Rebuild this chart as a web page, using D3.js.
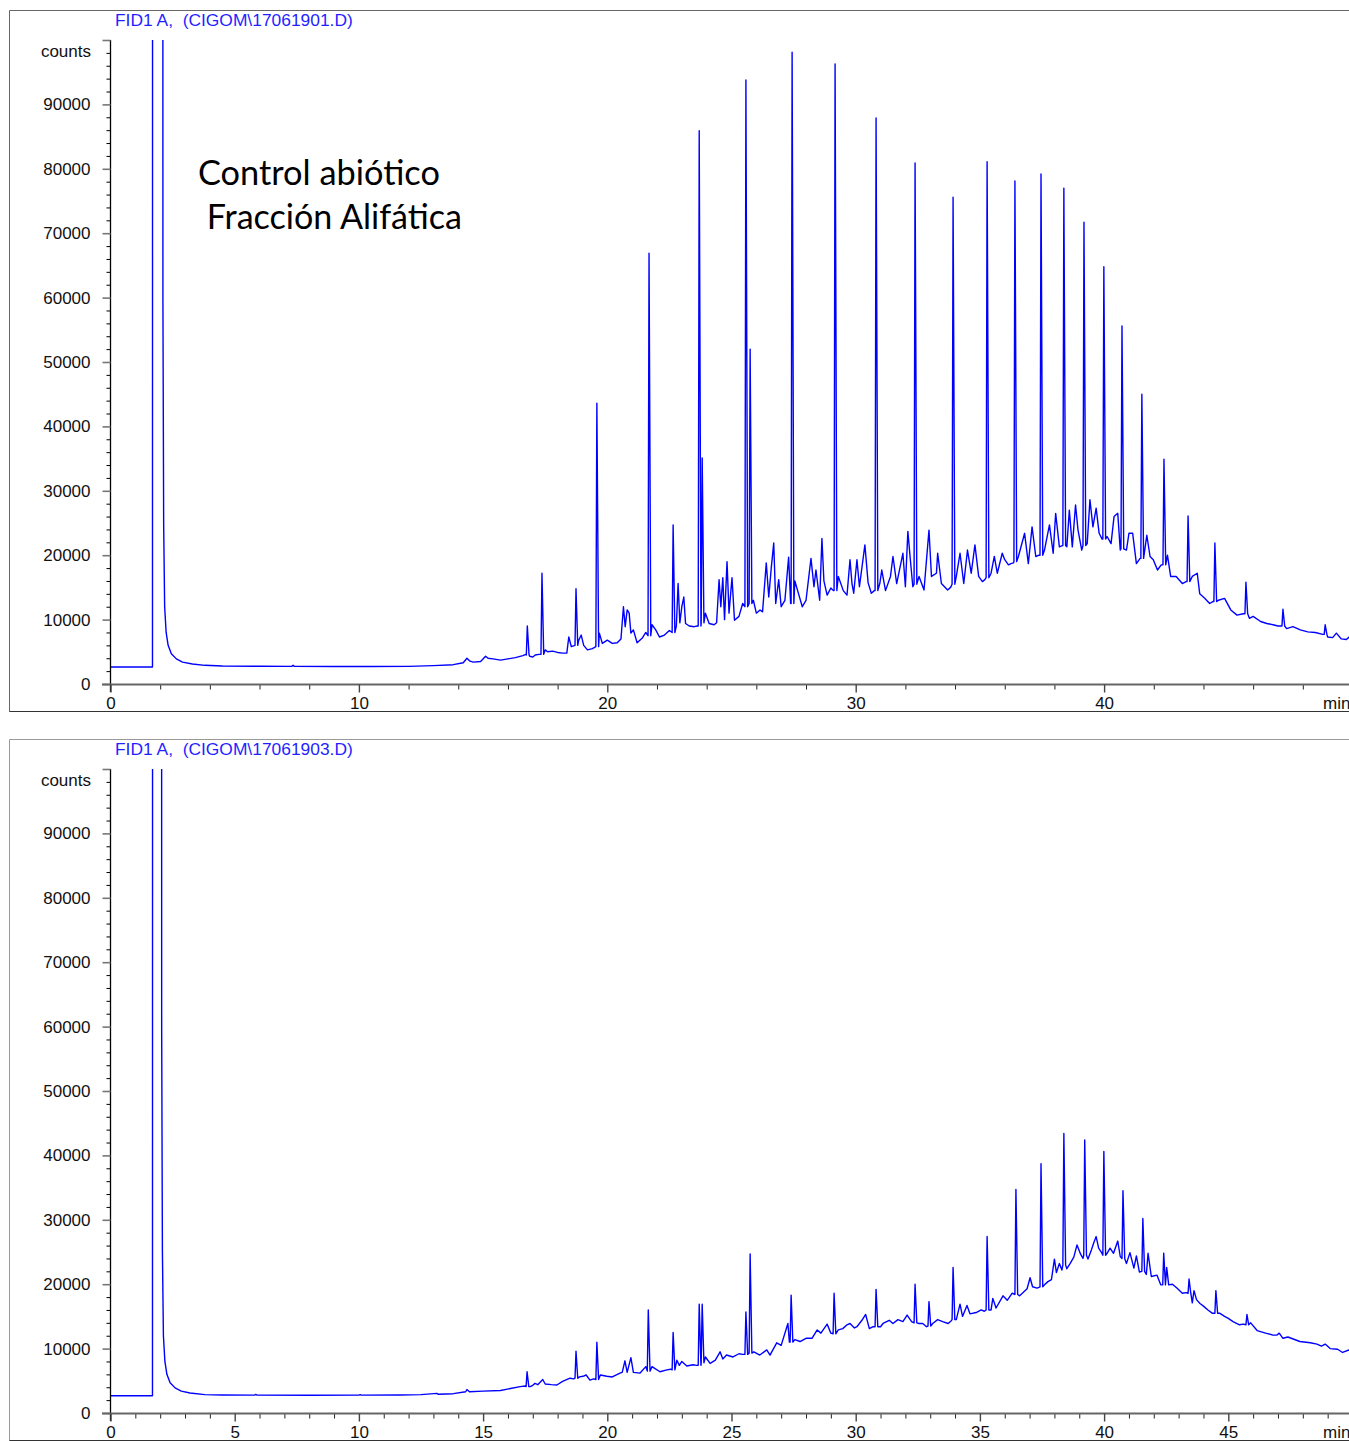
<!DOCTYPE html>
<html>
<head>
<meta charset="utf-8">
<script src="https://cdn.jsdelivr.net/npm/d3@7"></script>
<style>
  body { margin: 0; background: #fff; }
  svg { display: block; }
</style>
</head>
<body>
<script>
// ---------- Chromatogram data (retention time in min, detector counts) ----------

// Run 17061901 – abiotic control, aliphatic fraction: background trace
const traceTop = [
  [0,2640],[1.69,2640],[1.70,400000],[2.10,400000],[2.11,60000],[2.14,25000],[2.18,12000],[2.24,8000],
  [2.32,6000],[2.45,4700],[2.65,3900],[2.9,3400],[3.3,3100],[3.8,2900],[4.5,2800],[6,2760],[7.3,2740],
  [7.35,2900],[7.4,2740],[9,2720],[10.5,2720],[12,2740],[13,2850],[13.8,3000],[14.2,3300],[14.35,4000],
  [14.45,3600],[14.6,3400],[14.9,3500],[15.1,4300],[15.2,4000],[15.4,3900],[15.7,3700],[16.0,3900],
  [16.3,4100],[16.6,4400],[16.72,4600],[16.88,4300],[17.0,4200],[17.1,4500],[17.25,4600],[17.5,5300],
  [17.6,5000],[17.8,5100],[18.0,4900],[18.2,4800],[18.37,4800],[18.45,7300],[18.55,5800],[18.85,6800],
  [18.95,7600],[19.05,6000],[19.2,5300],[19.4,5500],[19.68,7900],[19.8,6300],[20.0,6800],[20.2,6300],
  [20.4,6400],[20.55,7000],[20.65,12000],[20.72,8900],[20.8,11500],[20.88,11000],[20.95,7900],[21.05,8400],
  [21.2,6400],[21.4,7100],[21.55,8000],[21.8,9200],[21.95,8400],[22.1,7300],[22.3,7600],[22.5,8300],
  [22.78,9000],[22.85,15600],[22.92,9500],[23.0,12000],[23.08,13500],[23.15,9400],[23.3,9000],[23.5,8900],
  [23.62,9000],[23.95,11000],[24.1,9400],[24.3,9200],[24.4,9500],[24.5,16200],[24.57,12000],[24.65,16500],
  [24.72,10000],[24.82,19000],[24.9,11000],[25.02,16500],[25.12,9900],[25.3,10500],[25.45,12500],
  [25.88,13000],[26.0,11000],[26.15,11500],[26.25,11200],[26.4,18800],[26.5,13500],[26.6,18000],
  [26.7,21900],[26.78,12500],[26.9,16200],[27.0,12000],[27.15,13000],[27.3,19700],[27.38,12500],
  [27.55,16000],[27.7,14000],[27.85,12000],[28.0,13000],[28.2,19500],[28.32,15100],[28.4,17700],
  [28.55,13000],[28.64,22600],[28.72,16000],[28.85,13800],[29.0,14900],[29.1,14500],[29.3,16700],
  [29.5,14500],[29.65,13800],[29.77,19300],[29.85,15600],[29.92,14100],[30.05,19300],[30.15,15100],
  [30.37,21600],[30.5,15700],[30.63,14100],[30.75,14500],[30.97,15600],[31.05,17700],[31.2,14500],
  [31.4,16700],[31.5,19800],[31.65,15600],[31.9,20300],[32.0,15100],[32.1,23700],[32.2,19300],[32.3,15100],
  [32.55,16700],[32.75,14600],[32.95,23900],[33.05,16700],[33.25,17200],[33.3,20300],[33.45,15600],
  [33.7,14600],[33.82,15000],[34.05,16700],[34.2,20300],[34.35,15600],[34.5,20800],[34.65,17200],
  [34.8,21600],[34.95,16700],[35.1,15900],[35.2,16200],[35.45,17200],[35.58,19800],[35.7,17200],
  [35.9,20300],[36.0,19300],[36.15,18500],[36.25,18700],[36.35,18800],[36.55,19800],[36.8,23400],
  [36.95,18700],[37.1,24400],[37.25,19800],[37.38,20000],[37.6,20800],[37.8,24700],[37.95,20300],
  [38.05,26500],[38.2,21300],[38.32,21500],[38.5,21300],[38.6,27000],[38.72,21300],[38.85,27800],
  [38.95,23900],[39.1,20800],[39.32,21800],[39.43,28600],[39.55,24400],[39.68,27300],[39.8,23400],
  [39.92,22500],[40.12,22900],[40.28,21800],[40.4,26000],[40.55,26500],[40.65,20800],[40.9,20800],
  [41.0,23400],[41.15,23400],[41.3,18700],[41.45,19500],[41.72,23100],[41.85,19800],[41.98,19300],
  [42.15,17700],[42.3,18500],[42.55,20000],[42.68,16700],[42.9,16700],[43.15,15600],[43.3,15900],
  [43.55,16700],[43.75,17200],[43.85,14000],[44.05,13300],[44.25,12500],[44.38,12800],[44.6,13000],
  [44.85,13300],[45.1,11500],[45.35,10700],[45.6,10900],[45.85,10200],[46.0,10500],[46.3,9700],
  [46.55,9400],[46.8,9200],[47.0,9000],[47.35,8600],[47.6,8900],[47.9,8400],[48.2,8100],[48.5,8000],
  [48.8,7700],[49.0,7300],[49.2,7200],[49.35,7900],[49.55,7000],[49.75,6900],[49.9,7400],[50,7300]
];
// Resolved peaks: [retention time, foot counts, apex counts]
const peaksTop = [
  [16.78,4500,9000],[17.37,4600,17200],[18.74,6000,14800],[19.58,5800,43600],[21.68,7500,66900],
  [22.65,8000,24700],[23.70,9000,85900],[23.82,9500,35100],[25.58,12000,93800],[25.75,12500,52000],
  [27.44,12500,98100],[29.17,14500,96300],[30.82,14500,87900],[32.39,15500,80900],[33.92,15500,75600],
  [35.29,16500,81100],[36.41,19000,78100],[37.46,20000,79200],[38.38,21500,77000],[39.19,21500,71700],
  [39.99,22500,64800],[40.72,21000,55600],[41.52,19500,45000],[42.41,18500,34900],[43.38,15900,26100],
  [44.46,12800,21900],[45.71,10900,15800],[47.2,9000,11600],[48.9,7700,9200]
];

// Run 17061903 – A2MF: background trace
const traceBottom = [
  [0,2680],[1.69,2680],[1.70,400000],[2.05,400000],[2.06,60000],[2.09,25000],[2.13,12000],[2.19,8000],
  [2.27,6000],[2.4,4700],[2.6,3900],[2.85,3400],[3.2,3100],[3.8,2850],[4.5,2800],[5.8,2780],[5.85,2880],
  [5.9,2780],[8,2760],[10,2770],[10.05,2850],[10.1,2770],[11.65,2800],[12.5,2850],[13.14,3050],[13.2,2900],
  [13.8,3000],[14.3,3300],[14.35,3650],[14.45,3300],[15.0,3400],[15.7,3500],[16.1,3800],[16.49,4100],
  [16.7,4200],[16.9,4100],[17.0,4300],[17.09,4600],[17.2,4400],[17.4,5200],[17.5,4500],[17.75,4400],
  [17.97,4350],[18.2,4900],[18.5,5400],[18.65,5300],[18.88,5600],[19.02,5700],[19.15,5900],[19.3,5100],
  [19.45,5300],[19.72,5900],[19.98,5700],[20.2,5600],[20.51,6200],[20.6,6300],[20.71,8100],[20.8,6300],
  [20.95,8600],[21.05,6300],[21.32,6200],[21.55,7200],[21.8,7200],[22.12,6400],[22.4,6700],[22.55,6800],
  [22.8,8200],[22.9,7400],[23.0,8000],[23.2,7300],[23.45,7500],[23.6,7400],[23.95,8700],[24.14,7700],
  [24.35,8200],[24.54,9500],[24.65,8400],[24.8,9000],[25.06,8700],[25.3,9200],[25.45,9100],[25.9,9500],
  [26.14,9000],[26.42,9800],[26.55,9000],[26.82,10900],[27.0,10500],[27.27,13900],[27.33,11000],
  [27.55,11400],[27.76,11100],[28.0,11600],[28.24,11600],[28.45,12900],[28.6,12400],[28.85,13800],
  [29.0,12400],[29.3,12900],[29.48,13100],[29.65,13700],[29.77,13900],[29.95,13200],[30.05,13400],
  [30.25,14400],[30.4,15300],[30.55,13100],[30.7,13400],[31.0,13400],[31.1,13900],[31.35,14400],
  [31.5,13900],[31.7,14500],[31.9,14200],[32.07,15200],[32.25,14200],[32.55,13900],[32.7,13900],
  [32.85,13400],[33.1,13900],[33.3,14500],[33.5,14200],[33.72,13900],[33.84,14300],[34.05,14500],
  [34.2,16900],[34.3,15000],[34.48,16700],[34.6,15400],[34.85,15600],[35.05,16000],[35.18,15800],
  [35.45,16000],[35.52,17800],[35.65,16300],[35.93,18200],[36.1,17500],[36.3,18600],[36.6,18200],
  [36.74,18700],[36.9,19300],[37.02,21000],[37.12,19600],[37.3,19400],[37.6,19900],[37.74,20400],
  [37.88,20700],[38.0,23900],[38.08,21800],[38.2,23200],[38.3,22200],[38.5,22400],[38.63,23200],
  [38.78,24200],[38.91,26100],[39.05,24700],[39.15,24000],[39.35,23900],[39.47,25100],[39.58,26400],
  [39.68,27400],[39.78,25600],[39.9,24900],[40.12,24800],[40.24,25600],[40.38,24800],[40.55,26700],
  [40.65,24300],[40.9,23200],[41.04,24900],[41.2,22500],[41.3,24400],[41.42,21900],[41.7,21500],
  [41.77,24800],[41.9,21200],[42.13,21400],[42.28,19900],[42.52,22600],[42.6,19900],[42.75,20000],
  [42.93,19400],[43.15,18600],[43.3,18700],[43.55,17100],[43.62,19000],[43.72,17600],[43.86,17000],
  [44.0,16600],[44.18,16000],[44.35,15500],[44.65,15500],[44.85,15000],[45.0,14700],[45.19,14200],
  [45.45,13700],[45.6,13800],[45.9,14000],[46.16,12800],[46.5,12400],[46.8,12100],[46.96,12100],
  [47.05,12400],[47.2,11600],[47.4,11800],[47.88,11100],[48.3,10900],[48.57,10700],[48.75,10400],
  [48.9,10700],[49.1,10000],[49.4,9900],[49.6,9400],[49.86,9800],[50,9700]
];
// Resolved peaks: [retention time, foot counts, apex counts]
const peaksBottom = [
  [16.77,4100,6400],[18.74,5400,9600],[19.58,5200,11000],[21.65,6500,16000],[22.65,6700,12500],
  [23.70,7400,16900],[23.82,7800,16900],[25.58,9100,15700],[25.75,9300,24700],[27.40,11000,18300],
  [29.13,12300,18600],[30.82,13400,19200],[32.39,14000,20000],[32.95,13500,17300],[33.92,14500,22600],
  [35.29,16000,27400],[36.45,18400,34700],[37.46,19600,38700],[38.38,23000,43400],[39.22,24500,42400],
  [39.99,24500,40600],[40.76,24000,34500],[41.56,22000,30200],[42.40,19900,24800],[43.42,18600,20800],
  [44.50,15500,19000],[45.75,13700,15300]
];

// Axis ticks and labels
const yMajorTicks = [0,10000,20000,30000,40000,50000,60000,70000,80000,90000,100000];
const yUnitLabel = "counts";
const xMajorTop = [0,10,20,30,40];
const xMajorBottom = [0,5,10,15,20,25,30,35,40,45];
const xUnitLabel = "min";
const titleTop = "FID1 A,  (CIGOM\\17061901.D)";
const titleBottom = "FID1 A,  (CIGOM\\17061903.D)";
const notesTop = ["Control abiótico", " Fracción Alifática"];
const notesBottom = ["A2MF"];

// ---------- Drawing ----------
const W = 1349, H = 1441;
const svg = d3.select("body").append("svg").attr("width", W).attr("height", H);

const LINE_BLUE = "#0000ff";
const TICK_FONT = "'Liberation Sans', Arial, sans-serif";

const panels = [
  { off: 0,   title: titleTop,    trace: traceTop,    peaks: peaksTop,    xMajor: xMajorTop,    xMinorStep: 2,
    notes: notesTop.map((t, i) => ({ text: t, x: 198, y: 185 + i * 44, width: i ? 264 : 242 })) },
  { off: 729, title: titleBottom, trace: traceBottom, peaks: peaksBottom, xMajor: xMajorBottom, xMinorStep: 1,
    notes: notesBottom.map(t => ({ text: t, x: 275, y: 971, width: 113 })) }
];

const x = d3.scaleLinear().domain([0, 50]).range([110.5, 1352.5]);

panels.forEach((p, pi) => {
  const g = svg.append("g").attr("transform", `translate(0,${p.off})`);
  const y = d3.scaleLinear().domain([0, 100000]).range([684, 40]);

  // panel frame (open on the right)
  g.append("path")
    .attr("d", `M${W},10.5H9.5V711.5H${W}`)
    .attr("fill", "none")
    .attr("stroke", pi === 0 ? "#666" : "#999")
    .attr("stroke-width", 1);

  // run title
  g.append("text")
    .attr("x", 115).attr("y", 26)
    .style("white-space", "pre")
    .attr("font-family", TICK_FONT).attr("font-size", 17.4)
    .attr("fill", "#1f1fff")
    .text(p.title);

  // signal trace, with resolved peaks inserted as sharp spikes
  const pts = p.trace.slice();
  p.peaks.forEach(([t, foot, apex]) => {
    pts.push([t - 0.04, foot], [t, apex], [t + 0.07, foot]);
  });
  pts.sort((a, b) => a[0] - b[0]);

  const clipId = `plot-clip-${pi}`;
  g.append("clipPath").attr("id", clipId)
    .append("rect").attr("x", 108).attr("y", y(100000)).attr("width", W - 108).attr("height", y(0) - y(100000) + 20);

  g.append("path")
    .datum(pts)
    .attr("clip-path", `url(#${clipId})`)
    .attr("fill", "none")
    .attr("stroke", LINE_BLUE)
    .attr("stroke-width", 1.4)
    .attr("stroke-linejoin", "round")
    .attr("d", d3.line().x(d => x(d[0])).y(d => y(d[1])));

  // y axis: minor ticks every 2000 counts, major every 10000
  const yMinor = d3.range(0, 100001, 2000).filter(v => v % 10000 !== 0);
  const yMinorAxis = g.append("g").attr("transform", "translate(110.5,0)")
    .call(d3.axisLeft(y).tickValues(yMinor).tickSize(4).tickSizeOuter(0).tickFormat(""));
  yMinorAxis.select(".domain").remove();
  yMinorAxis.selectAll(".tick line").attr("stroke", "#000").attr("stroke-width", 1);

  const yAxis = g.append("g").attr("transform", "translate(110.5,0)")
    .call(d3.axisLeft(y).tickValues(yMajorTicks).tickSize(8).tickSizeOuter(0).tickPadding(12)
      .tickFormat(v => v === 100000 ? "" : String(v)));
  yAxis.select(".domain").attr("stroke", "#000").attr("stroke-width", 1.3)
    .attr("d", `M0,${y(100000)}V${y(0) + 8}`);
  yAxis.selectAll(".tick line").attr("stroke", "#777").attr("stroke-width", 1.6);
  yAxis.selectAll(".tick text").attr("font-family", TICK_FONT).attr("font-size", 17).attr("fill", "#111");

  g.append("text")
    .attr("x", 91).attr("y", 57).attr("text-anchor", "end")
    .attr("font-family", TICK_FONT).attr("font-size", 17).attr("fill", "#111")
    .text(yUnitLabel);

  // x axis
  const xMinor = d3.range(0, 50.01, p.xMinorStep).filter(v => !p.xMajor.includes(v));
  const xMinorAxis = g.append("g").attr("transform", "translate(0,684.5)")
    .call(d3.axisBottom(x).tickValues(xMinor).tickSize(5).tickSizeOuter(0).tickFormat(""));
  xMinorAxis.select(".domain").remove();
  xMinorAxis.selectAll(".tick line").attr("stroke", "#222").attr("stroke-width", 1);

  const xAxis = g.append("g").attr("transform", "translate(0,684.5)")
    .call(d3.axisBottom(x).tickValues(p.xMajor).tickSize(8).tickSizeOuter(0).tickPadding(4)
      .tickFormat(d3.format("d")));
  xAxis.select(".domain").attr("stroke", "#666").attr("stroke-width", 2)
    .attr("d", `M102,0H${W}`);
  xAxis.selectAll(".tick line").attr("stroke", "#444").attr("stroke-width", 1.4);
  xAxis.selectAll(".tick text").attr("font-family", TICK_FONT).attr("font-size", 17).attr("fill", "#111");

  g.append("text")
    .attr("x", 1323).attr("y", 709)
    .attr("font-family", TICK_FONT).attr("font-size", 17).attr("fill", "#111")
    .text(xUnitLabel);

  // sample annotations, sized to their line widths
  p.notes.forEach(n => {
    const t = g.append("text")
      .attr("x", n.x).attr("y", n.y)
      .style("white-space", "pre")
      .attr("font-family", "Lato, 'Open Sans', sans-serif")
      .attr("font-size", 32).attr("fill", "#000")
      .text(n.text);
    const w = t.node().getComputedTextLength();
    t.attr("font-size", 32 * n.width / w);
  });

  // bottom frame edge drawn last so it sits above the axis labels
  g.append("line").attr("x1", 9.5).attr("x2", W).attr("y1", 711.5).attr("y2", 711.5)
    .attr("stroke", "#333").attr("stroke-width", 1.2);
});
</script>
</body>
</html>
